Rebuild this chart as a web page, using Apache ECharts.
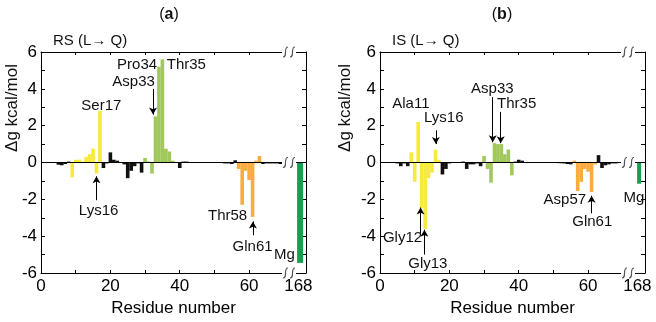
<!DOCTYPE html>
<html>
<head>
<meta charset="utf-8">
<script src="https://cdn.jsdelivr.net/npm/echarts@6/dist/echarts.min.js"></script>
<style>
html, body { margin: 0; padding: 0; background: #fff; }
#chart { width: 656px; height: 322px; }
</style>
</head>
<body>
<div id="chart"></div>
<script>
// residue numbers 1..70, then Mg (residue 168) drawn after the axis break
const residues = [1, 2, 3, 4, 5, 6, 7, 8, 9, 10, 11, 12, 13, 14, 15, 16, 17, 18, 19, 20,
  21, 22, 23, 24, 25, 26, 27, 28, 29, 30, 31, 32, 33, 34, 35, 36, 37, 38, 39, 40,
  41, 42, 43, 44, 45, 46, 47, 48, 49, 50, 51, 52, 53, 54, 55, 56, 57, 58, 59, 60,
  61, 62, 63, 64, 65, 66, 67, 68, 69, 70];

// (a) RS (L -> Q), kcal/mol
const rsValues = [0, 0, 0, 0, -0.12, -0.15, -0.08, 0.05, -0.8, 0.15,
  0.15, 0.05, 0.3, 0.45, 0.75, -0.6, 2.8, -0.3, -0.05, 0.55,
  0.15, 0.1, 0.02, -0.1, -0.85, -0.45, -0.2, -0.05, -0.55, 0.25,
  0.05, -0.6, 2.5, 5.2, 5.6, 0.75, 0.6, 0.1, 0.02, -0.3,
  0.05, 0.05, 0.02, 0.01, 0.01, 0, 0, 0, 0, 0,
  -0.02, -0.03, -0.05, -0.05, -0.08, 0.12, -0.35, -2.3, -0.45, -0.95,
  -2.95, 0.1, 0.35, -0.08, -0.05, -0.05, -0.05, -0.05, -0.08, -0.03];

// (b) IS (L -> Q), kcal/mol
const isValues = [0, 0, 0, 0, -0.05, -0.2, -0.05, -0.2, 0.55, -1.05,
  2.2, -2.5, -3.6, -0.85, -0.55, 0.7, 0.15, -0.65, -0.35, -0.05,
  0.02, 0.02, 0, 0.05, -0.35, -0.1, -0.1, -0.05, -0.2, 0.35,
  -0.35, -1.1, 1.05, 1.0, 1.0, 0.45, 0.7, -0.7, 0.05, 0.15,
  0.1, 0.02, 0.01, 0, 0, 0, 0, 0, 0, -0.02,
  -0.03, -0.04, -0.05, -0.08, -0.1, 0.1, -1.55, -1.05, -0.35, -0.5,
  -1.6, -0.1, 0.4, -0.3, -0.15, -0.1, -0.05, -0.05, -0.03, 0];

const mgRS = -5.45;
const mgIS = -1.15;

// coloured residue ranges [first, last]
const rsGroups = { yellow: [9, 17], green: [30, 38], orange: [57, 63] };
const isGroups = { yellow: [9, 17], green: [30, 38], orange: [56, 62] };

const xTicks = [0, 10, 20, 30, 40, 50, 60];
const xLabels = [0, 20, 40, 60];
const yTicks = [-6, -5, -4, -3, -2, -1, 0, 1, 2, 3, 4, 5, 6];

// layout (axis units)
const XMAX = 76.4;
const MG_POS = 74.7;
const LABEL_168 = 74.2;
const BREAK_POS = 71.5;

const rsNotes = [
  { t: 'Ser17', x: 17.4, y: 3.1 }, { t: 'Pro34', x: 27.7, y: 5.3 },
  { t: 'Asp33', x: 26.7, y: 4.4 }, { t: 'Thr35', x: 41.9, y: 5.3 },
  { t: 'Lys16', x: 16.6, y: -2.65 }, { t: 'Thr58', x: 53.8, y: -2.9 },
  { t: 'Gln61', x: 61.0, y: -4.6 }, { t: 'Mg', x: 70.2, y: -5.0 }
];
const rsArrows = [[32.3, 4.0, 2.6], [16.0, -2.05, -0.75], [61.1, -3.95, -3.2]];

const isNotes = [
  { t: 'Ala11', x: 8.9, y: 3.2 }, { t: 'Lys16', x: 18.4, y: 2.43 },
  { t: 'Asp33', x: 32.4, y: 4.0 }, { t: 'Thr35', x: 39.4, y: 3.2 },
  { t: 'Gly12', x: 6.5, y: -4.1 }, { t: 'Gly13', x: 13.8, y: -5.5 },
  { t: 'Asp57', x: 53.3, y: -2.05 }, { t: 'Gln61', x: 61.2, y: -3.2 },
  { t: 'Mg', x: 73.2, y: -1.9 }
];
const isArrows = [[16.1, 1.75, 1.0], [32.5, 3.55, 1.1], [34.8, 2.75, 1.05],
  [11.7, -3.85, -2.45], [12.8, -5.0, -3.65], [61.0, -2.76, -1.8]];

const FONT = "'Liberation Sans', Arial, sans-serif";
const colors = { yellow: '#f7eb3a', green: '#a0c85a', orange: '#fbab40', black: '#111111', mg: '#14a04e' };

function colorOf(r, groups) {
  for (const k of ['yellow', 'green', 'orange']) {
    if (r >= groups[k][0] && r <= groups[k][1]) return colors[k];
  }
  return colors.black;
}

const chart = echarts.init(document.getElementById('chart'));

const grids = [
  { left: 41, top: 52, width: 265, height: 221 },
  { left: 380, top: 52, width: 265, height: 221 }
];

const xAxes = [];
const yAxes = [];
const series = [];
const frameLine = { onZero: false, lineStyle: { color: '#000', width: 1 } };

function addPanel(i, values, groups, mgValue, mgWidth, notes, arrows) {
  xAxes.push({
    gridIndex: i, type: 'value', min: 0, max: XMAX, position: 'bottom',
    axisLine: frameLine,
    axisTick: { inside: true, length: 3, customValues: xTicks, lineStyle: { color: '#000' } },
    axisLabel: {
      customValues: xLabels.concat([LABEL_168]), margin: 5, fontSize: 17, color: '#000', fontFamily: FONT,
      formatter: v => (v === LABEL_168 ? '168' : String(v))
    },
    splitLine: { show: false },
    name: 'Residue number', nameLocation: 'middle', nameGap: 22,
    nameTextStyle: { fontSize: 17, color: '#000', fontFamily: FONT }
  });
  xAxes.push({
    gridIndex: i, type: 'value', min: 0, max: XMAX, position: 'top',
    axisLine: frameLine,
    axisTick: { inside: true, length: 3, customValues: xTicks.slice(1), lineStyle: { color: '#000' } },
    axisLabel: { show: false }, splitLine: { show: false }
  });
  yAxes.push({
    gridIndex: i, type: 'value', min: -6, max: 6, position: 'left',
    axisLine: frameLine,
    axisTick: { inside: true, length: 4, customValues: yTicks, lineStyle: { color: '#000' } },
    axisLabel: {
      customValues: yTicks.filter(v => v % 2 === 0), margin: 4, fontSize: 17, color: '#000', fontFamily: FONT
    },
    splitLine: { show: false }
  });
  yAxes.push({
    gridIndex: i, type: 'value', min: -6, max: 6, position: 'right',
    axisLine: frameLine,
    axisTick: { inside: true, length: 4, customValues: yTicks, lineStyle: { color: '#000' } },
    axisLabel: { show: false }, splitLine: { show: false }
  });

  const lines = [[{ coord: [0, 0], symbol: 'none' }, { coord: [XMAX, 0], symbol: 'none' }]];
  arrows.forEach(a => lines.push([{ coord: [a[0], a[1]] }, { coord: [a[0], a[2]] }]));

  series.push({
    type: 'bar', xAxisIndex: 2 * i, yAxisIndex: 2 * i,
    data: residues.map((r, k) => [r, values[k]]),
    barWidth: 3.6,
    itemStyle: { color: p => colorOf(p.value[0], groups) },
    markLine: {
      silent: true, symbol: ['none', 'arrow'], symbolSize: [6, 7], animation: false,
      lineStyle: { color: '#000', width: 1, type: 'solid' },
      label: { show: false },
      data: lines
    },
    markPoint: {
      silent: true, symbol: 'circle', symbolSize: 0, animation: false,
      label: {
        show: true, position: 'inside', formatter: '{b}', color: '#111',
        fontSize: 15, fontFamily: FONT
      },
      data: notes.map(n => ({ name: n.t, coord: [n.x, n.y] }))
    }
  });
  series.push({
    type: 'bar', xAxisIndex: 2 * i + 1, yAxisIndex: 2 * i,
    data: [[MG_POS, mgValue]], barWidth: mgWidth,
    itemStyle: { color: colors.mg }
  });
}

addPanel(0, rsValues, rsGroups, mgRS, 6, rsNotes, rsArrows);
addPanel(1, isValues, isGroups, mgIS, 4, isNotes, isArrows);

const textBits = [
  { type: 'text', x: 169, y: 15, style: {
      text: '{n|(}{b|a}{n|)}', align: 'center', verticalAlign: 'middle',
      rich: { n: { fontSize: 16, fontFamily: FONT, fill: '#111' }, b: { fontSize: 16, fontWeight: 'bold', fontFamily: FONT, fill: '#111' } } } },
  { type: 'text', x: 502, y: 15, style: {
      text: '{n|(}{b|b}{n|)}', align: 'center', verticalAlign: 'middle',
      rich: { n: { fontSize: 16, fontFamily: FONT, fill: '#111' }, b: { fontSize: 16, fontWeight: 'bold', fontFamily: FONT, fill: '#111' } } } },
  { type: 'text', x: 53, y: 41, style: { text: 'RS (L\u2192 Q)', fontSize: 15, fontFamily: FONT, fill: '#111', verticalAlign: 'middle' } },
  { type: 'text', x: 392, y: 41, style: { text: 'IS (L\u2192 Q)', fontSize: 15, fontFamily: FONT, fill: '#111', verticalAlign: 'middle' } },
  { type: 'text', x: 12.5, y: 108, rotation: Math.PI / 2, style: { text: '\u0394g kcal/mol', fontSize: 17, fontFamily: FONT, fill: '#111', align: 'center', verticalAlign: 'middle' } },
  { type: 'text', x: 345, y: 108, rotation: Math.PI / 2, style: { text: '\u0394g kcal/mol', fontSize: 17, fontFamily: FONT, fill: '#111', align: 'center', verticalAlign: 'middle' } }
];

chart.setOption({
  animation: false,
  grid: grids,
  xAxis: xAxes,
  yAxis: yAxes,
  series: series,
  graphic: textBits
});

// axis-break marks on top, zero line and bottom of each panel
const breaks = [];
[0, 1].forEach(i => {
  [6, 0, -6].forEach(v => {
    const p = chart.convertToPixel({ xAxisIndex: 2 * i, yAxisIndex: 2 * i }, [BREAK_POS, v]);
    const s = { stroke: '#555', lineWidth: 1.2, fill: null };
    breaks.push({
      type: 'group', x: p[0], y: p[1], z: 100,
      children: [
        { type: 'rect', z: 100, shape: { x: -7, y: -2, width: 14, height: 4 }, style: { fill: '#fff' } },
        { type: 'bezierCurve', z: 101, shape: { x1: -6, y1: 5, cpx1: -1, cpy1: 5, cpx2: -6, cpy2: -5, x2: -1, y2: -5 }, style: s },
        { type: 'bezierCurve', z: 101, shape: { x1: 1, y1: 5, cpx1: 6, cpy1: 5, cpx2: 1, cpy2: -5, x2: 6, y2: -5 }, style: s }
      ]
    });
  });
});
chart.setOption({ graphic: textBits.concat(breaks) });
</script>
</body>
</html>
